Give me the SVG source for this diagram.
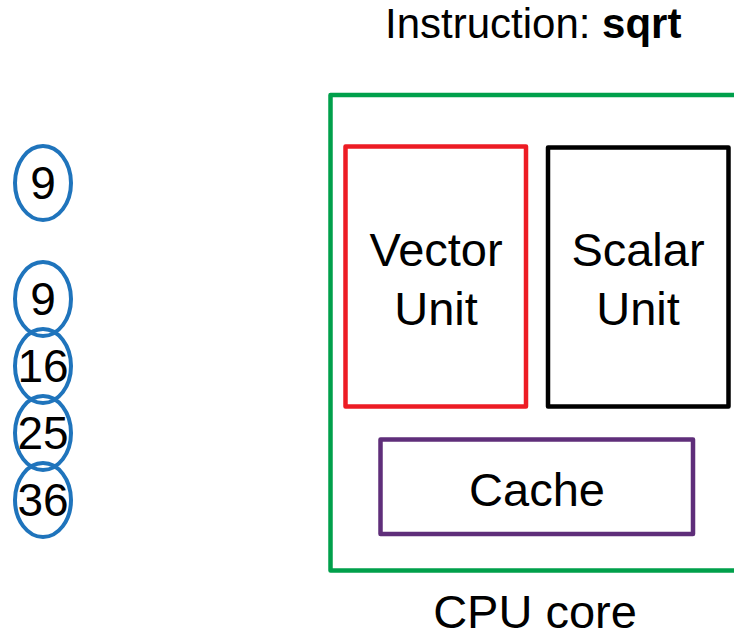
<svg xmlns="http://www.w3.org/2000/svg" width="734" height="636" viewBox="0 0 734 636">
  <style>
    .lbl { font-family: "Liberation Sans", Arial, sans-serif; font-size: 47px; fill: #000; text-anchor: middle; }
    .num { font-family: "Liberation Sans", Arial, sans-serif; font-size: 46px; fill: #000; text-anchor: middle; }
    .title { font-family: "Liberation Sans", Arial, sans-serif; font-size: 42px; fill: #000; }
    .val { fill: none; stroke: #1F74BC; stroke-width: 4; }
    .box { fill: none; stroke-width: 4.5; stroke-linejoin: round; }
  </style>
  <rect width="734" height="636" fill="#fff"/>

  <!-- instruction heading -->
  <text id="instruction" class="title" x="385" y="38">Instruction: <tspan font-weight="bold">sqrt</tspan></text>

  <!-- single scalar operand -->
  <g id="scalar-value">
    <ellipse class="val" cx="43" cy="183" rx="28" ry="37"/>
    <text class="num" x="43" y="199">9</text>
  </g>

  <!-- vector operand lanes -->
  <g id="vec-0">
    <ellipse class="val" cx="43" cy="299" rx="28" ry="37"/>
    <text class="num" x="43" y="315">9</text>
  </g>
  <g id="vec-1">
    <ellipse class="val" cx="43" cy="366" rx="28" ry="37"/>
    <text class="num" x="43" y="382">16</text>
  </g>
  <g id="vec-2">
    <ellipse class="val" cx="43" cy="433" rx="28" ry="37"/>
    <text class="num" x="43" y="449">25</text>
  </g>
  <g id="vec-3">
    <ellipse class="val" cx="43" cy="500" rx="28" ry="37"/>
    <text class="num" x="43" y="516">36</text>
  </g>

  <!-- CPU core outline, open past the right edge -->
  <g id="cpu-core">
    <rect class="box" x="330.5" y="95" width="420" height="475.5" stroke="#00A04B"/>
    <text class="lbl" x="535" y="628">CPU core</text>
  </g>

  <g id="vector-unit">
    <rect class="box" x="345.5" y="146.5" width="180.5" height="260" stroke="#ED1C24"/>
    <text class="lbl" x="436" y="266">Vector</text>
    <text class="lbl" x="436" y="325">Unit</text>
  </g>

  <g id="scalar-unit">
    <rect class="box" x="548" y="147.5" width="180.5" height="259" stroke="#000"/>
    <text class="lbl" x="638" y="266">Scalar</text>
    <text class="lbl" x="638" y="325">Unit</text>
  </g>

  <g id="cache">
    <rect class="box" x="380.5" y="439.5" width="312.5" height="94.5" stroke="#5F2E7A"/>
    <text class="lbl" x="537" y="506">Cache</text>
  </g>

  <g id="connectors"></g>
</svg>
